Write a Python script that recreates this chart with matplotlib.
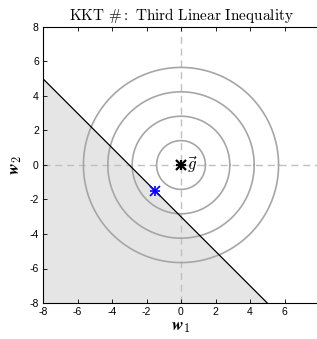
import numpy as np
import matplotlib
matplotlib.use("Agg")
import matplotlib.pyplot as plt

plt.rcParams["mathtext.fontset"] = "cm"
plt.rcParams["font.family"] = ["Liberation Sans", "DejaVu Sans"]
plt.rcParams["axes.unicode_minus"] = False

# data
radii = [np.sqrt(2), 2 * np.sqrt(2), 3 * np.sqrt(2), 4 * np.sqrt(2)]
line_x = [-8, 5]
line_y = [5, -8]
shade_x = [-8, -8, 5]
shade_y = [-8, 5, -8]
g_pt = (0, 0)
w_star = (-1.5, -1.5)
ticks = [-8, -6, -4, -2, 0, 2, 4, 6, 8]

fig = plt.figure(figsize=(3.17, 3.39), dpi=100)
ax = fig.add_axes([43 / 317, 36 / 339, 276 / 317, 276 / 339])

ax.fill(shade_x, shade_y, color="#e5e5e5", lw=0, zorder=0)
ax.plot(line_x, line_y, color="black", lw=0.9, zorder=3)

ax.axhline(0, color="#c0c0c0", lw=1.0, ls=(0, (5, 3.5)), zorder=1)
ax.axvline(0, color="#c0c0c0", lw=1.0, ls=(0, (5, 3.5)), zorder=1)

t = np.linspace(0, 2 * np.pi, 400)
for r in radii:
    ax.plot(r * np.cos(t), r * np.sin(t), color="#a6a6a6", lw=1.2, zorder=2)

for m in ["+", "x"]:
    ax.plot(*g_pt, marker=m, color="black", ms=6.5, mew=1.6, zorder=5)
    ax.plot(*w_star, marker=m, color="blue", ms=6.5, mew=1.2, zorder=5)
ax.text(0.35, 0, r"$\vec{g}$", fontsize=12, va="center", ha="left", zorder=6)

ax.set_xlim(-8, 8)
ax.set_ylim(-8, 8)
ax.set_xticks(ticks)
ax.set_yticks(ticks)
ax.tick_params(direction="in", top=True, right=False, labelsize=7.5, length=3, width=0.6, pad=3)
for s in ax.spines.values():
    s.set_linewidth(0.8)

ax.set_xlabel(r"$\boldsymbol{w}_1$", fontsize=12.5, labelpad=2)
ax.set_ylabel(r"$\boldsymbol{w}_2$", fontsize=12.5, labelpad=4)
ax.set_title(r"$\mathrm{KKT\ \#{:}\ Third\ Linear\ Inequality}$", fontsize=11, pad=5)

fig.savefig("out.png", dpi=100)
